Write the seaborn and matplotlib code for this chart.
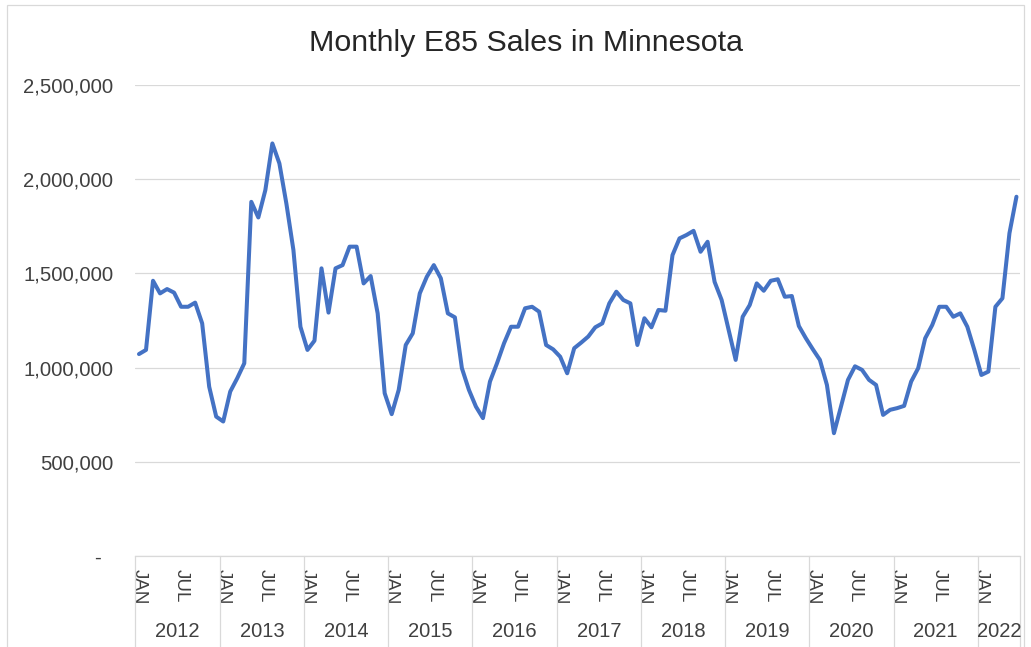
import numpy as np
import pandas as pd
import matplotlib.pyplot as plt
import seaborn as sns
from matplotlib.patches import Rectangle
from matplotlib.ticker import FuncFormatter

# monthly E85 sales (gallons)
years = [2012, 2013, 2014, 2015, 2016, 2017, 2018, 2019, 2020, 2021, 2022]
sales_2012 = [1072000, 1094000, 1461000, 1394000, 1417000, 1398000, 1323000, 1323000, 1345000, 1235000, 899000, 740000]
sales_2013 = [714000, 873000, 944000, 1023000, 1880000, 1797000, 1942000, 2190000, 2084000, 1870000, 1624000, 1217000]
sales_2014 = [1094000, 1143000, 1527000, 1292000, 1527000, 1544000, 1642000, 1642000, 1447000, 1486000, 1288000, 864000]
sales_2015 = [753000, 882000, 1120000, 1182000, 1394000, 1482000, 1544000, 1474000, 1288000, 1267000, 997000, 882000]
sales_2016 = [793000, 732000, 926000, 1023000, 1129000, 1217000, 1217000, 1315000, 1323000, 1297000, 1120000, 1097000]
sales_2017 = [1058000, 970000, 1103000, 1133000, 1165000, 1214000, 1235000, 1341000, 1403000, 1359000, 1341000, 1120000]
sales_2018 = [1262000, 1214000, 1306000, 1302000, 1597000, 1686000, 1704000, 1726000, 1615000, 1668000, 1455000, 1359000]
sales_2019 = [1200000, 1041000, 1270000, 1332000, 1447000, 1408000, 1461000, 1469000, 1376000, 1380000, 1221000, 1156000]
sales_2020 = [1097000, 1041000, 908000, 652000, 793000, 935000, 1007000, 988000, 935000, 908000, 749000, 776000]
sales_2021 = [785000, 797000, 926000, 997000, 1156000, 1226000, 1323000, 1323000, 1270000, 1288000, 1217000, 1094000]
sales_2022 = [961000, 979000, 1323000, 1368000, 1713000, 1907000]

all_sales = (sales_2012 + sales_2013 + sales_2014 + sales_2015 + sales_2016 + sales_2017
             + sales_2018 + sales_2019 + sales_2020 + sales_2021 + sales_2022)
df = pd.DataFrame({'month': np.arange(len(all_sales)), 'sales': all_sales})
n = len(df)

sns.set_theme(style="white")
plt.rcParams['font.family'] = ['Liberation Sans', 'DejaVu Sans']
txt = '#404040'
grid = '#d9d9d9'

fig = plt.figure(figsize=(10.31, 6.47), dpi=100)
ax = fig.add_axes([0.1314, 0.1406, 0.8579, 0.728])

sns.lineplot(data=df, x='month', y='sales', color='#4472C4', linewidth=2.9, ax=ax)

ax.set_xlim(-0.5, n - 0.5)
ax.set_ylim(0, 2500000)
ax.set_yticks(np.arange(0, 2500001, 500000))
ax.yaxis.set_major_formatter(FuncFormatter(lambda v, p: '-  ' if v == 0 else f'{v:,.0f}'))
ax.grid(axis='y', color=grid, linewidth=0.9)
ax.set_axisbelow(True)

# month labels on the first level of the axis
ticks = [i for i in range(n) if i % 6 == 0]
ax.set_xticks(ticks)
ax.set_xticklabels(['JAN' if i % 12 == 0 else 'JUL' for i in ticks], rotation=270)
ax.tick_params(axis='x', length=0, pad=9, labelsize=13.5, colors=txt)
ax.tick_params(axis='y', length=0, pad=16, labelsize=14.6, colors=txt)
ax.set_xlabel('')
ax.set_ylabel('')

for s in ['top', 'right', 'left']:
    ax.spines[s].set_visible(False)
ax.spines['bottom'].set_color(grid)
ax.spines['bottom'].set_linewidth(0.9)

# year level: separators and labels
tr = ax.get_xaxis_transform()
bounds = [12 * k - 0.5 for k in range(len(years))] + [n - 0.5]
for b in bounds:
    ax.plot([b, b], [0, -0.2], transform=tr, clip_on=False, color=grid, linewidth=0.9)
for k, yr in enumerate(years):
    mid = (bounds[k] + bounds[k + 1]) / 2
    ax.text(mid, -0.16, str(yr), transform=tr, ha='center', va='center',
            fontsize=14.5, color=txt)

fig.text(0.51, 0.933, 'Monthly E85 Sales in Minnesota', ha='center', va='center',
         fontsize=21.9, color='#262626')

# chart frame
fig.patches.append(Rectangle((0.007, -0.01), 0.986, 1.002, transform=fig.transFigure,
                             fill=False, edgecolor=grid, linewidth=0.9))

fig.savefig('out.png', dpi=100)
